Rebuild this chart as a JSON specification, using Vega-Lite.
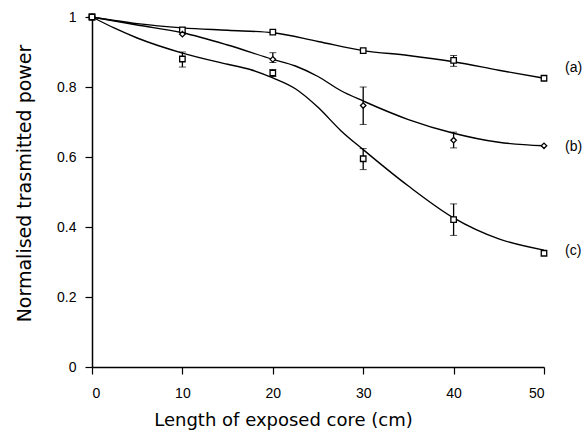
{
  "$schema": "https://vega.github.io/schema/vega-lite/v6.json",
  "width": 452,
  "height": 350,
  "autosize": {"type": "none"},
  "padding": {"left": 92, "top": 17, "right": 41, "bottom": 73},
  "background": "white",
  "config": {
    "view": {"stroke": null},
    "axis": {
      "domainColor": "black",
      "domainWidth": 1.5,
      "tickColor": "black",
      "tickWidth": 1.2,
      "tickSize": 7,
      "grid": false,
      "labelFont": "Liberation Sans",
      "labelFontSize": 14,
      "labelColor": "black",
      "titleFont": "DejaVu Sans",
      "titleFontSize": 18,
      "titleFontWeight": "normal",
      "titleColor": "black"
    }
  },
  "datasets": {
    "curves": [
      {"series": "a", "x": 0, "y": 1}, {"series": "a", "x": 5, "y": 0.981}, {"series": "a", "x": 10, "y": 0.969},
      {"series": "a", "x": 15, "y": 0.962}, {"series": "a", "x": 20, "y": 0.955}, {"series": "a", "x": 25, "y": 0.93},
      {"series": "a", "x": 30, "y": 0.904}, {"series": "a", "x": 35, "y": 0.89}, {"series": "a", "x": 40, "y": 0.872},
      {"series": "a", "x": 45, "y": 0.848}, {"series": "a", "x": 50, "y": 0.825},
      {"series": "b", "x": 0, "y": 1}, {"series": "b", "x": 5, "y": 0.977}, {"series": "b", "x": 10, "y": 0.955},
      {"series": "b", "x": 15, "y": 0.92}, {"series": "b", "x": 20, "y": 0.879}, {"series": "b", "x": 22.5, "y": 0.86},
      {"series": "b", "x": 25, "y": 0.83}, {"series": "b", "x": 27.5, "y": 0.79},
      {"series": "b", "x": 30, "y": 0.76}, {"series": "b", "x": 35, "y": 0.707}, {"series": "b", "x": 40, "y": 0.668},
      {"series": "b", "x": 45, "y": 0.642}, {"series": "b", "x": 50, "y": 0.632},
      {"series": "c", "x": 0, "y": 1}, {"series": "c", "x": 2.5, "y": 0.968}, {"series": "c", "x": 5, "y": 0.94},
      {"series": "c", "x": 10, "y": 0.897}, {"series": "c", "x": 15, "y": 0.865}, {"series": "c", "x": 17.5, "y": 0.85},
      {"series": "c", "x": 20, "y": 0.826}, {"series": "c", "x": 22.5, "y": 0.795}, {"series": "c", "x": 25, "y": 0.742},
      {"series": "c", "x": 27.5, "y": 0.676}, {"series": "c", "x": 30, "y": 0.621},
      {"series": "c", "x": 35, "y": 0.517}, {"series": "c", "x": 40, "y": 0.426}, {"series": "c", "x": 45, "y": 0.366},
      {"series": "c", "x": 50, "y": 0.334}
    ],
    "points": [
      {"series": "a", "x": 0, "y": 1}, {"series": "a", "x": 10, "y": 0.963}, {"series": "a", "x": 20, "y": 0.957},
      {"series": "a", "x": 30, "y": 0.904}, {"series": "a", "x": 40, "y": 0.876}, {"series": "a", "x": 50, "y": 0.825},
      {"series": "b", "x": 0, "y": 1}, {"series": "b", "x": 10, "y": 0.951}, {"series": "b", "x": 20, "y": 0.879},
      {"series": "b", "x": 30, "y": 0.747}, {"series": "b", "x": 40, "y": 0.648}, {"series": "b", "x": 50, "y": 0.632},
      {"series": "c", "x": 0, "y": 1}, {"series": "c", "x": 10, "y": 0.88}, {"series": "c", "x": 20, "y": 0.84},
      {"series": "c", "x": 30, "y": 0.595}, {"series": "c", "x": 40, "y": 0.421}, {"series": "c", "x": 50, "y": 0.325}
    ],
    "errors": [
      {"series": "a", "x": 40, "lo": 0.859, "hi": 0.89},
      {"series": "b", "x": 20, "lo": 0.87, "hi": 0.898},
      {"series": "b", "x": 30, "lo": 0.693, "hi": 0.80},
      {"series": "b", "x": 40, "lo": 0.626, "hi": 0.671},
      {"series": "c", "x": 10, "lo": 0.857, "hi": 0.90},
      {"series": "c", "x": 20, "lo": 0.83, "hi": 0.85},
      {"series": "c", "x": 30, "lo": 0.564, "hi": 0.624},
      {"series": "c", "x": 40, "lo": 0.376, "hi": 0.466}
    ],
    "labels": [
      {"label": "(a)", "x": 50, "y": 0.853},
      {"label": "(b)", "x": 50, "y": 0.63},
      {"label": "(c)", "x": 50, "y": 0.331}
    ]
  },
  "layer": [
    {
      "data": {"name": "curves"},
      "mark": {"type": "line", "interpolate": "monotone", "color": "black", "strokeWidth": 1.4},
      "encoding": {
        "x": {
          "field": "x", "type": "quantitative",
          "scale": {"domain": [0, 50], "nice": false},
          "title": "Length of exposed core (cm)",
          "axis": {"values": [0, 10, 20, 30, 40, 50], "labelPadding": 12, "titlePadding": 11, "titleX": 191, "titleAlign": "center"}
        },
        "y": {
          "field": "y", "type": "quantitative",
          "scale": {"domain": [0, 1], "nice": false},
          "title": "Normalised trasmitted power",
          "axis": {"values": [0, 0.2, 0.4, 0.6, 0.8, 1], "format": "~g", "labelPadding": 9, "titlePadding": 22, "titleY": 166, "titleFontSize": 19}
        },
        "detail": {"field": "series"}
      }
    },
    {
      "data": {"name": "errors"},
      "mark": {"type": "errorbar", "ticks": {"size": 7, "color": "black", "strokeWidth": 1.2}, "rule": {"color": "black", "strokeWidth": 1.3}},
      "encoding": {
        "x": {"field": "x", "type": "quantitative", "title": "Length of exposed core (cm)"},
        "y": {"field": "lo", "type": "quantitative", "title": "Normalised trasmitted power"},
        "y2": {"field": "hi"}
      }
    },
    {
      "data": {"name": "points"},
      "mark": {"type": "point", "filled": false, "fill": "white", "fillOpacity": 1, "color": "black", "strokeWidth": 1.3, "size": 30, "opacity": 1},
      "encoding": {
        "x": {"field": "x", "type": "quantitative", "title": "Length of exposed core (cm)"},
        "y": {"field": "y", "type": "quantitative", "title": "Normalised trasmitted power"},
        "shape": {
          "field": "series", "type": "nominal",
          "scale": {"domain": ["a", "b", "c"], "range": ["square", "diamond", "square"]},
          "legend": null
        }
      }
    },
    {
      "data": {"name": "labels"},
      "mark": {"type": "text", "align": "left", "baseline": "middle", "dx": 21, "font": "Liberation Sans", "fontSize": 14, "color": "black"},
      "encoding": {
        "x": {"field": "x", "type": "quantitative", "title": "Length of exposed core (cm)"},
        "y": {"field": "y", "type": "quantitative", "title": "Normalised trasmitted power"},
        "text": {"field": "label"}
      }
    }
  ]
}
